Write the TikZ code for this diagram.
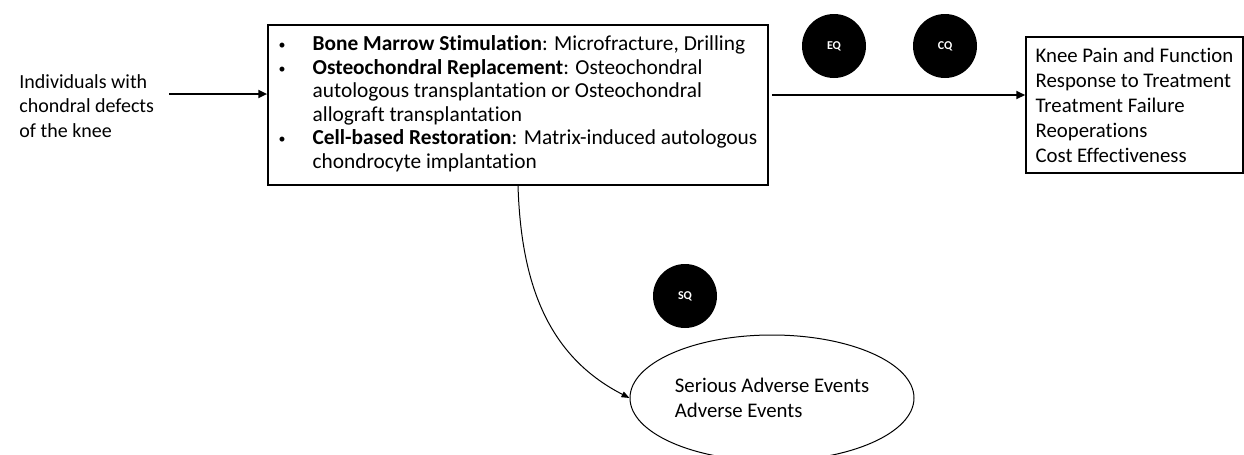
\documentclass[tikz,border=0pt]{standalone}
\usepackage{fontspec}
\setmainfont{Carlito}[Ligatures=NoCommon]
\usetikzlibrary{arrows.meta,shapes.geometric}

\newcommand{\dotitem}{\raisebox{0.5pt}{\fontsize{7}{7}\selectfont\textbullet}}

\begin{document}
\begin{tikzpicture}[x=0.5pt, y=-0.5pt, line width=0.75pt,
  txt/.style={font=\fontsize{10}{12.25}\selectfont, align=left},
  qdot/.style={circle, fill=black, text=white, minimum size=32pt, inner sep=0pt,
    font=\bfseries\fontsize{6}{7}\selectfont},
  flow/.style={line width=1.25pt, -{Triangle[length=4.5pt, width=4pt]}},
  harm/.style={line width=0.5pt, -{Triangle[length=4pt, width=3pt]}}]

\useasboundingbox (0,0) rectangle (1244,455);

\node[txt, anchor=west] (pop) at (12,106)
  {Individuals with\\chondral defects\\of the knee};

\node[draw, minimum width=250pt, minimum height=80pt, inner sep=0pt] (trt) at (518,105)
  {\fontsize{10.67}{11.75}\selectfont
   \begin{tabular}{@{}p{17pt}@{}l@{}}
   \dotitem & \textbf{Bone Marrow Stimulation}: Microfracture, Drilling\\
   \dotitem & \textbf{Osteochondral Replacement}: Osteochondral\\
            & autologous transplantation or Osteochondral\\
            & allograft transplantation\\
   \dotitem & \textbf{Cell-based Restoration}: Matrix-induced autologous\\
            & chondrocyte implantation
   \end{tabular}};

\node[draw, txt, minimum width=108.5pt, minimum height=68pt, inner sep=0pt,
  font=\fontsize{10.4}{12.5}\selectfont] (out) at (1134.5,105)
  {Knee Pain and Function\\Response to Treatment\\Treatment Failure\\Reoperations\\Cost Effectiveness};

\node[draw, ellipse, txt, line width=0.5pt, minimum width=142pt, minimum height=63pt,
  inner sep=0pt, font=\fontsize{10.4}{12.5}\selectfont] (sae) at (772,398)
  {Serious Adverse Events\\Adverse Events};

\node[qdot] (eq) at (834,46) {EQ};
\node[qdot] (cq) at (945,46) {CQ};
\node[qdot] (sq) at (685,296) {SQ};

\coordinate (in) at (169,94);
\coordinate (ay) at (0,95);
\draw[flow] (in) -- (in -| trt.west);
\draw[flow] ([xshift=1.5pt]trt.east |- ay) -- (out.west |- ay);
\draw[harm] (trt.south) .. controls +(3,94) and +(-84,-43) .. (sae.west);

\end{tikzpicture}
\end{document}
